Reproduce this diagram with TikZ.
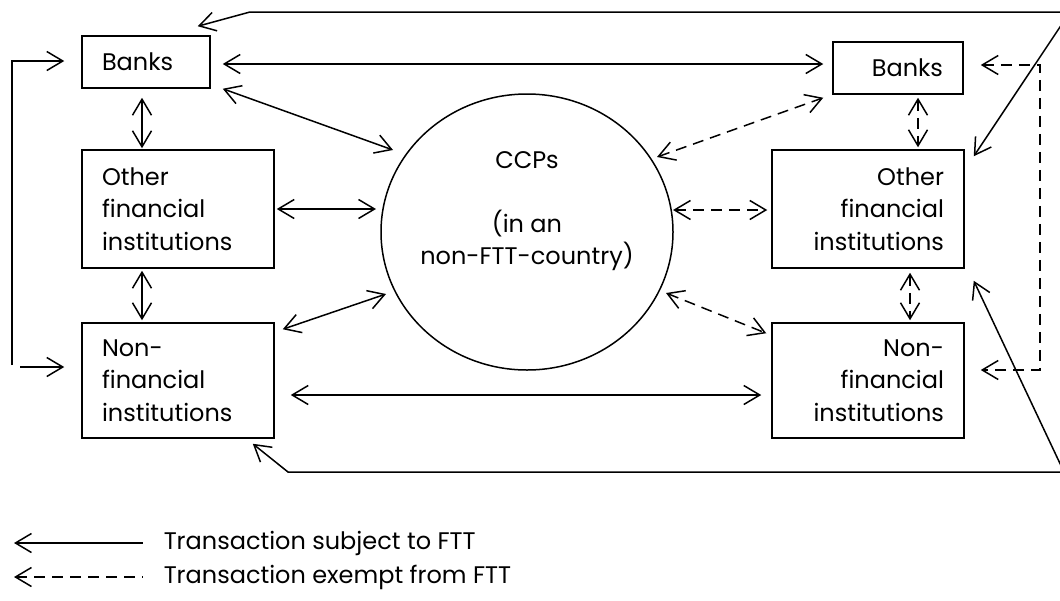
\documentclass[tikz,border=0pt]{standalone}
\usepackage{fontspec}
\setmainfont{Poppins}
\usetikzlibrary{arrows.meta,shapes.geometric,calc}
\begin{document}
\begin{tikzpicture}[x=1pt,y=-1pt,
  line width=1.5pt,
  tip/.tip={Straight Barb[length=16pt,width=19pt,line width=1.5pt]},
  box/.style={draw,rectangle,inner xsep=20pt,inner ysep=0pt,font=\fontsize{24}{32.5}\selectfont},
  lbox/.style={box,align=left},
  rbox/.style={box,align=right},
  conn/.style={tip-tip},
  dconn/.style={tip-tip,dash pattern=on 11pt off 7pt},
  lbl/.style={font=\fontsize{24}{32}\selectfont,inner sep=0pt,anchor=west}]
\useasboundingbox (0,0) rectangle (1060,600);
% boxes
\node[lbox,minimum width=128pt,minimum height=52pt,text width=88pt] (bl) at (146,62) {Banks};
\node[lbox,minimum width=192pt,minimum height=118pt,text width=152pt] (ol) at (178,209) {Other\\financial\\institutions};
\node[lbox,minimum width=192pt,minimum height=115pt,text width=152pt] (nl) at (178,380.5) {Non-\\financial\\institutions};
\node[rbox,minimum width=130pt,minimum height=52pt,text width=90pt] (br) at (898,68) {Banks};
\node[rbox,minimum width=192pt,minimum height=118pt,text width=152pt] (or) at (868,209) {Other\\financial\\institutions};
\node[rbox,minimum width=192pt,minimum height=115pt,text width=152pt] (nr) at (868,380.5) {Non-\\financial\\institutions};
\node[draw,ellipse,minimum width=292pt,minimum height=276pt,inner sep=0pt] (ccp) at (527,232) {};
\node[font=\fontsize{24}{32}\selectfont,align=center,inner sep=0pt] (ccpt) at (527,211) {CCPs\\[0pt]\\(in an\\non-FTT-country)};
% solid connectors
\draw[conn] ([shift={(12,2)}]bl.east) -- ([shift={(-9,-4)}]br.west);
\draw[conn] ([shift={(12,0)}]bl.south east) -- ([shift={(-134,-82)}]ccp.center);
\draw[conn] ([shift={(-4,9)}]bl.south) -- ([shift={(-36,-1)}]ol.north);
\draw[conn] ([shift={(2,0)}]ol.east) -- ([shift={(-151,-23)}]ccp.center);
\draw[conn] ([shift={(-36,2)}]ol.south) -- ([shift={(-36,-2)}]nl.north);
\draw[conn] ([shift={(8,7)}]nl.north east) -- ([shift={(-141,62)}]ccp.center);
\draw[conn] ([shift={(16,14.5)}]nl.east) -- ([shift={(-10,14.5)}]nr.west);
% dashed connectors
\draw[dconn] ([shift={(130,-75)}]ccp.center) -- ([shift={(-9,3)}]br.south west);
\draw[dconn] ([shift={(146,-22)}]ccp.center) -- ([shift={(-4,1)}]or.west);
\draw[dconn] ([shift={(139,61)}]ccp.center) -- ([shift={(-5,11)}]nr.north west);
\draw[dconn] ([shift={(20,3)}]br.south) -- ([shift={(50,-2)}]or.north);
\draw[dconn] ([shift={(42,4)}]or.south) -- ([shift={(42,-2)}]nr.north);
% loops
\coordinate (tr) at (1070,12);
\coordinate (tl) at (250,12);
\draw[conn] ([shift={(9,7)}]or.north east) -- (tr) -- (tl) -- ([shift={(-13,-9)}]bl.north east);
\coordinate (brc) at (1064,472);
\coordinate (blc) at (288,472);
\draw[conn] ([shift={(9,12)}]or.south east) -- (brc) -- (blc) -- ([shift={(-22,5)}]nl.south east);
\coordinate (lb) at (12,365);
\coordinate (lt) at (12,61);
\coordinate (ls) at (20,367);
\draw[-tip] (lb) -- (lt) -- ([shift={(-17,-1)}]bl.west);
\draw[-tip] (ls) -- ([shift={(-17,-13.5)}]nl.west);
\coordinate (rt) at (1040,65);
\coordinate (rb) at (1040,370);
\draw[dconn] ([shift={(17,-3)}]br.east) -- (rt) -- (rb) -- ([shift={(16,-10.5)}]nr.east);
% legend
\coordinate (la1) at (14,543);
\coordinate (la2) at (143,543);
\coordinate (lb1) at (14,577);
\coordinate (lb2) at (143,577);
\draw[tip-] (la1) -- (la2);
\draw[tip-,dash pattern=on 11pt off 7pt] (lb1) -- (lb2);
\node[lbl] (t1) at (163,543) {Transaction subject to FTT};
\node[lbl] (t2) at (163,577) {Transaction exempt from FTT};
\end{tikzpicture}
\end{document}
